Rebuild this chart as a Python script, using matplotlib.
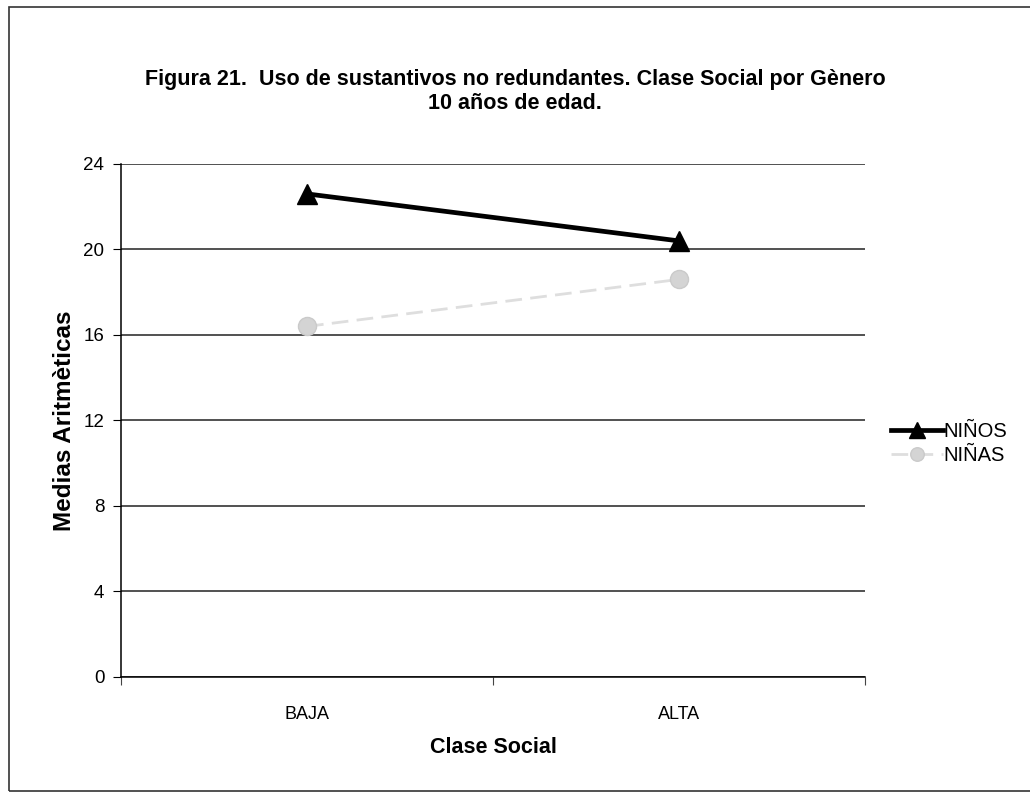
import matplotlib.pyplot as plt
from matplotlib.patches import Rectangle

plt.rcParams['font.family'] = ['Liberation Sans', 'DejaVu Sans']

clases = ['BAJA', 'ALTA']
ninos = [22.6, 20.4]
ninas = [16.4, 18.6]
y_ticks = [0, 4, 8, 12, 16, 20, 24]


def main():
    fig = plt.figure(figsize=(10.3, 7.94), dpi=100)
    ax = fig.add_axes([0.1175, 0.1474, 0.7223, 0.6461])

    # marco exterior del grafico
    fig.patches.append(Rectangle((0.009, 0.004), 0.995, 0.987, transform=fig.transFigure,
                                 fill=False, edgecolor='#333333', linewidth=1.2))

    x = list(range(len(clases)))
    ax.plot(x, ninos, color='black', linewidth=3.4, marker='^', markersize=15,
            label='NIÑOS', zorder=4)
    ax.plot(x, ninas, color='#dedede', linewidth=2, linestyle=(0, (6, 3)), marker='o',
            markersize=13, markerfacecolor='#d4d4d4', markeredgecolor='#cacaca',
            label='NIÑAS', zorder=3)

    ax.set_xlim(-0.5, 1.5)
    ax.set_ylim(0, 24)
    ax.set_yticks(y_ticks)
    ax.set_xticks([-0.5, 0.5, 1.5])
    ax.set_xticklabels([])
    ax.set_xticks(x, labels=clases, minor=True)
    ax.tick_params(axis='x', which='minor', length=0, pad=21, labelsize=13)
    ax.tick_params(axis='x', which='major', length=6, direction='out', color='#444444')
    ax.tick_params(axis='y', length=6, direction='out', labelsize=13.5, pad=6)

    ax.grid(axis='y', color='#222222', linewidth=1.1)
    ax.set_axisbelow(True)
    for side in ['top', 'right']:
        ax.spines[side].set_visible(False)
    ax.spines['left'].set_linewidth(1.1)
    ax.spines['bottom'].set_linewidth(1.1)

    ax.set_ylabel('Medias Aritmèticas', fontsize=17.5, fontweight='bold', labelpad=5)
    ax.set_xlabel('Clase Social', fontsize=15.5, fontweight='bold', labelpad=10)

    fig.text(0.5, 0.885, 'Figura 21.  Uso de sustantivos no redundantes. Clase Social por Gènero\n10 años de edad.',
             ha='center', va='center', fontsize=15.5, fontweight='bold', linespacing=1.15)

    ax.legend(loc='center left', bbox_to_anchor=(1.01, 0.455), frameon=False, fontsize=14.5,
              handlelength=2.6, handletextpad=0.0, labelspacing=0.25, markerscale=0.75)

    plt.savefig('out.png', dpi=100)


if __name__ == '__main__':
    main()
